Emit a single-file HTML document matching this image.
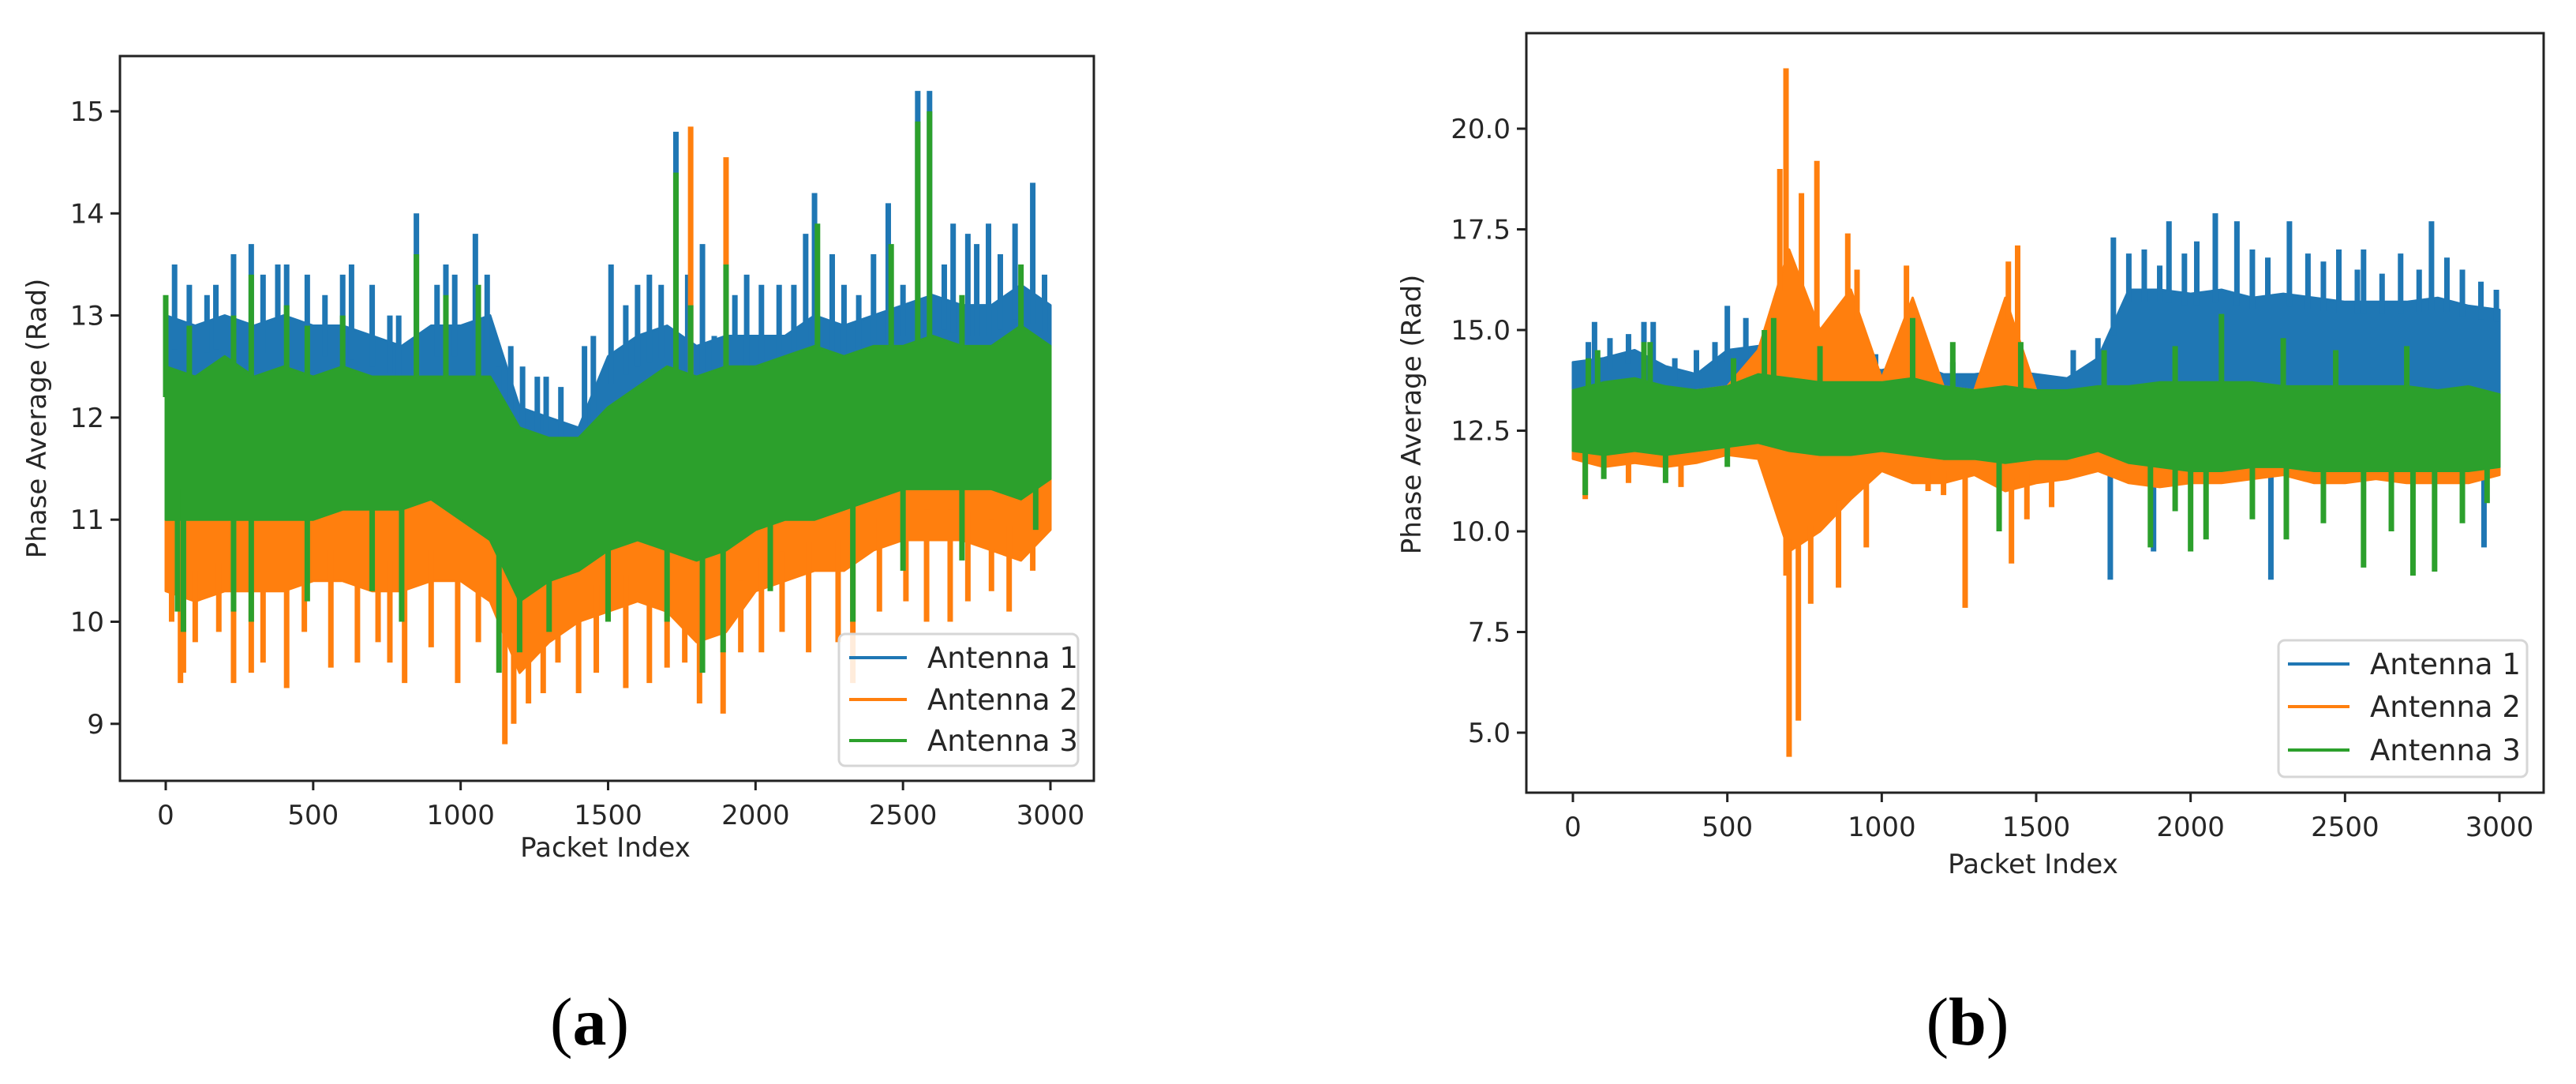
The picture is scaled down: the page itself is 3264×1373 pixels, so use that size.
<!DOCTYPE html>
<html><head><meta charset="utf-8">
<style>
html,body{margin:0;padding:0;background:#fff;}
svg{display:block;}
text{font-family:"DejaVu Sans","Liberation Sans",sans-serif;fill:#262626;}
</style></head>
<body>
<svg id="fig" width="3264" height="1373" viewBox="0 0 3264 1373" xmlns="http://www.w3.org/2000/svg"></svg>
<script>
// ---------- data (a) : band envelopes sampled every 100 packets ----------
const xSamples = [0,100,200,300,400,500,600,700,800,900,1000,1100,1200,1300,1400,1500,1600,1700,1800,1900,2000,2100,2200,2300,2400,2500,2600,2700,2800,2900,3000];
const aBlueHi  = [13.0,12.9,13.0,12.9,13.0,12.9,12.9,12.8,12.7,12.9,12.9,13.0,12.1,12.0,11.9,12.6,12.8,12.9,12.7,12.8,12.8,12.8,13.0,12.9,13.0,13.1,13.2,13.1,13.1,13.3,13.1];
const aBlueLo  = [11.1,11.1,11.1,11.1,11.1,11.1,11.2,11.2,11.2,11.3,11.1,10.9,10.3,10.5,10.6,10.8,10.9,10.8,10.7,10.8,11.0,11.1,11.1,11.2,11.3,11.4,11.4,11.4,11.4,11.3,11.5];
const aOrangeHi= [12.3,12.2,12.4,12.2,12.3,12.2,12.3,12.2,12.2,12.2,12.2,12.2,11.7,11.6,11.6,11.9,12.1,12.3,12.2,12.3,12.3,12.4,12.5,12.4,12.5,12.5,12.6,12.5,12.5,12.7,12.5];
const aOrangeLo= [10.3,10.2,10.3,10.3,10.3,10.4,10.4,10.3,10.3,10.4,10.4,10.2,9.5,9.8,10.0,10.1,10.2,10.1,9.8,9.9,10.3,10.4,10.5,10.5,10.7,10.8,10.8,10.8,10.7,10.6,10.9];
const aGreenHi = [12.5,12.4,12.6,12.4,12.5,12.4,12.5,12.4,12.4,12.4,12.4,12.4,11.9,11.8,11.8,12.1,12.3,12.5,12.4,12.5,12.5,12.6,12.7,12.6,12.7,12.7,12.8,12.7,12.7,12.9,12.7];
const aGreenLo = [11.0,11.0,11.0,11.0,11.0,11.0,11.1,11.1,11.1,11.2,11.0,10.8,10.2,10.4,10.5,10.7,10.8,10.7,10.6,10.7,10.9,11.0,11.0,11.1,11.2,11.3,11.3,11.3,11.3,11.2,11.4];
const aBlueSpikes   = [[30,13.5],[80,13.3],[140,13.2],[170,13.3],[230,13.6],[290,13.7],[330,13.4],[380,13.5],[410,13.5],[480,13.4],[540,13.2],[600,13.4],[630,13.5],[700,13.3],[760,13.0],[790,13.0],[850,14.0],[920,13.3],[950,13.5],[980,13.4],[1050,13.8],[1090,13.4],[1130,12.5],[1170,12.7],[1210,12.5],[1260,12.4],[1290,12.4],[1340,12.3],[1420,12.7],[1450,12.8],[1510,13.5],[1560,13.1],[1600,13.3],[1640,13.4],[1680,13.3],[1730,14.8],[1770,13.4],[1820,13.7],[1860,12.8],[1930,13.2],[1970,13.4],[2020,13.3],[2080,13.3],[2130,13.3],[2170,13.8],[2200,14.2],[2260,13.6],[2300,13.3],[2350,13.2],[2400,13.6],[2450,14.1],[2500,13.3],[2550,15.2],[2590,15.2],[2640,13.5],[2670,13.9],[2720,13.8],[2750,13.7],[2790,13.9],[2830,13.6],[2880,13.9],[2940,14.3],[2980,13.4]];
const aOrangeSpikes = [[1780,14.85],[1900,14.55],[20,10.0],[50,9.4],[60,9.5],[100,9.8],[180,9.9],[230,9.4],[290,9.5],[330,9.6],[410,9.35],[470,9.9],[560,9.55],[650,9.6],[720,9.8],[760,9.6],[810,9.4],[900,9.75],[990,9.4],[1060,9.8],[1150,8.8],[1180,9.0],[1230,9.2],[1280,9.3],[1330,9.6],[1400,9.3],[1460,9.5],[1560,9.35],[1640,9.4],[1700,9.55],[1760,9.6],[1810,9.2],[1890,9.1],[1950,9.7],[2020,9.7],[2090,9.9],[2180,9.7],[2280,9.8],[2330,9.4],[2420,10.1],[2510,10.2],[2580,10.0],[2660,10.0],[2720,10.2],[2800,10.3],[2860,10.1],[2940,10.5]];
const aGreenSpikes  = [[0,13.2],[80,12.9],[230,13.0],[290,13.4],[410,13.1],[480,12.9],[600,13.0],[850,13.6],[950,13.2],[1060,13.3],[1730,14.4],[1780,13.1],[1900,13.5],[2210,13.9],[2460,13.7],[2550,14.9],[2590,15.0],[2700,13.2],[2900,13.5],[40,10.1],[60,9.9],[230,10.1],[290,10.0],[480,10.2],[700,10.3],[800,10.0],[1130,9.5],[1200,9.7],[1300,9.9],[1500,10.0],[1700,10.0],[1820,9.5],[1890,9.7],[2050,10.3],[2330,10.0],[2500,10.5],[2700,10.6],[2950,10.9]];
const aYTicks = [9,10,11,12,13,14,15];
const aYTickLabels = ["9","10","11","12","13","14","15"];

// ---------- data (b) ----------
const bBlueHi  = [14.2,14.3,14.5,14.1,13.9,14.5,14.6,14.5,14.2,14.1,14.0,14.2,13.9,13.9,14.0,13.9,13.8,14.3,16.0,16.0,15.9,16.0,15.8,15.9,15.8,15.7,15.7,15.7,15.8,15.6,15.5];
const bBlueLo  = [12.0,11.9,12.0,11.9,12.0,12.1,12.2,12.0,11.9,11.9,12.0,11.9,11.8,11.8,11.7,11.8,11.8,12.0,11.8,11.6,11.5,11.5,11.6,11.6,11.5,11.5,11.5,11.5,11.5,11.5,11.6];
const bOrangeHi= [13.5,13.6,13.7,13.5,13.5,13.6,14.5,17.0,15.0,16.0,13.8,15.8,13.6,13.5,15.8,13.5,13.4,13.5,13.4,13.4,13.4,13.4,13.4,13.4,13.4,13.4,13.4,13.4,13.4,13.4,13.3];
const bOrangeLo= [11.8,11.6,11.7,11.6,11.7,11.9,11.8,9.5,10.0,10.8,11.5,11.2,11.2,11.4,11.0,11.2,11.3,11.5,11.2,11.1,11.2,11.2,11.3,11.4,11.2,11.2,11.3,11.2,11.2,11.2,11.4];
const bGreenHi = [13.5,13.7,13.8,13.6,13.5,13.6,13.9,13.8,13.7,13.7,13.7,13.8,13.6,13.5,13.6,13.5,13.5,13.6,13.6,13.7,13.7,13.7,13.7,13.6,13.6,13.6,13.6,13.6,13.5,13.6,13.4];
const bGreenLo = [12.0,11.9,12.0,11.9,12.0,12.1,12.2,12.0,11.9,11.9,12.0,11.9,11.8,11.8,11.7,11.8,11.8,12.0,11.7,11.6,11.5,11.5,11.6,11.6,11.5,11.5,11.5,11.5,11.5,11.5,11.6];
const bBlueSpikes   = [[20,13.9],[50,14.7],[70,15.2],[120,14.8],[180,14.9],[230,15.2],[260,15.2],[330,14.3],[400,14.5],[460,14.7],[500,15.6],[560,15.3],[620,14.8],[760,14.7],[980,14.4],[1230,14.2],[1380,14.3],[1620,14.5],[1700,14.8],[1750,17.3],[1800,16.9],[1850,17.0],[1900,16.6],[1930,17.7],[1980,16.9],[2020,17.2],[2080,17.9],[2150,17.7],[2200,17.0],[2250,16.8],[2320,17.7],[2380,16.9],[2430,16.7],[2480,17.0],[2540,16.5],[2560,17.0],[2620,16.4],[2680,16.9],[2740,16.5],[2780,17.7],[2830,16.8],[2880,16.5],[2940,16.2],[2990,16.0],[1740,8.8],[2260,8.8],[2950,9.6],[1880,9.5]];
const bOrangeSpikes = [[690,21.5],[670,19.0],[740,18.4],[790,19.2],[890,17.4],[920,16.5],[1080,16.6],[1440,17.1],[1410,16.7],[700,4.4],[730,5.3],[690,8.9],[770,8.2],[860,8.6],[1270,8.1],[1420,9.2],[1380,10.3],[40,10.8],[180,11.2],[350,11.1],[1150,11.0],[1200,10.9],[1470,10.3],[1550,10.6],[950,9.6]];
const bGreenSpikes  = [[50,14.3],[80,14.5],[230,14.7],[250,14.7],[520,14.3],[620,15.0],[650,15.3],[800,14.6],[1100,15.3],[1230,14.7],[1450,14.7],[1720,14.5],[1950,14.6],[2100,15.4],[2300,14.8],[2470,14.5],[2700,14.6],[40,10.9],[100,11.3],[300,11.2],[500,11.6],[1380,10.0],[1870,9.6],[1950,10.5],[2000,9.5],[2050,9.8],[2200,10.3],[2310,9.8],[2430,10.2],[2560,9.1],[2650,10.0],[2720,8.9],[2790,9.0],[2880,10.2],[2960,10.7]];
const bYTicks = [5,7.5,10,12.5,15,17.5,20];
const bYTickLabels = ["5.0","7.5","10.0","12.5","15.0","17.5","20.0"];

const xTicks = [0,500,1000,1500,2000,2500,3000];
const xTickLabels = ["0","500","1000","1500","2000","2500","3000"];
const seriesNames = ["Antenna 1","Antenna 2","Antenna 3"];
const COLORS = ["#1f77b4","#ff7f0e","#2ca02c"];

const NS="http://www.w3.org/2000/svg";
const svg=document.getElementById('fig');
function mk(tag,attrs,parent){const e=document.createElementNS(NS,tag);for(const k in attrs)e.setAttribute(k,attrs[k]);(parent||svg).appendChild(e);return e;}

function panel(cfg){
  const g=mk('g',{});
  
  
  const X=v=>cfg.x0+(v-0)*(cfg.x3000-cfg.x0)/3000;
  const Y=v=>cfg.yRefPx+(cfg.yRef-v)*cfg.pxPerUnit;
  const interp=(arr,x)=>{const i=Math.min(29,Math.floor(x/100));const t=(x-xSamples[i])/100;return arr[i]*(1-t)+arr[i+1]*t;};
  const clip='clip-'+cfg.name;
  const defs=mk('defs',{},g);
  const cp=mk('clipPath',{id:clip},defs);
  mk('rect',{x:cfg.L,y:cfg.T,width:cfg.R-cfg.L,height:cfg.B-cfg.T},cp);
  const plot=mk('g',{'clip-path':'url(#'+clip+')'},g);
  cfg.series.forEach((s,si)=>{
    const sg=mk('g',{},plot);
    
    
    let pts=xSamples.map((x,i)=>X(x)+','+Y(s.hi[i]));
    for(let i=xSamples.length-1;i>=0;i--)pts.push(X(xSamples[i])+','+Y(s.lo[i]));
    const band=mk('polygon',{points:pts.join(' '),fill:COLORS[si],stroke:COLORS[si],'stroke-width':3,'stroke-linejoin':'round'},sg);
    
    
    s.spikes.forEach(([x,v])=>{
      const up=v>interp(s.hi,x);
      const base=up?interp(s.hi,x)-0.3:interp(s.lo,x)+0.3;
      const ln=mk('line',{x1:X(x),x2:X(x),y1:Y(base),y2:Y(v),stroke:COLORS[si],'stroke-width':7},sg);
      
      
    });
  });
  const fr=mk('rect',{x:cfg.L,y:cfg.T,width:cfg.R-cfg.L,height:cfg.B-cfg.T,fill:'none',stroke:'#222','stroke-width':3},g);
  
  
  xTicks.forEach((t,i)=>{
    mk('line',{x1:X(t),x2:X(t),y1:cfg.B,y2:cfg.B+12,stroke:'#222','stroke-width':3},g);
    const tx=mk('text',{x:X(t),y:cfg.B+55,'font-size':34,'text-anchor':'middle'},g);
    tx.textContent=xTickLabels[i];
    
    
  });
  cfg.yTicks.forEach((t,i)=>{
    mk('line',{x1:cfg.L-12,x2:cfg.L,y1:Y(t),y2:Y(t),stroke:'#222','stroke-width':3},g);
    const tx=mk('text',{x:cfg.L-20,y:Y(t)+12,'font-size':34,'text-anchor':'end'},g);
    tx.textContent=cfg.yLabels[i];
    
    
  });
  const xl=mk('text',{x:cfg.xlX,y:cfg.xlY,'font-size':34,'text-anchor':'middle'},g);
  xl.textContent='Packet Index';
  
  
  const yl=mk('text',{x:0,y:0,'font-size':34,'text-anchor':'middle',transform:`translate(${cfg.ylX},${cfg.ylY}) rotate(-90)`},g);
  yl.textContent='Phase Average (Rad)';
  
  
  const lg=mk('g',{},g);
  
  
  mk('rect',{x:cfg.lg[0],y:cfg.lg[1],width:cfg.lg[2]-cfg.lg[0],height:cfg.lg[3]-cfg.lg[1],rx:8,fill:'#fff','fill-opacity':0.85,stroke:'#d6d6d6','stroke-width':3},lg);
  seriesNames.forEach((n,i)=>{
    const yy=cfg.lgRows[i];
    const e=mk('g',{},lg);
    
    
    mk('line',{x1:cfg.lgLine[0],x2:cfg.lgLine[1],y1:yy,y2:yy,stroke:COLORS[i],'stroke-width':4},e);
    const t=mk('text',{x:cfg.lgText,y:yy+13,'font-size':37},e);
    t.textContent=n;
  });
  const cap=mk('text',{x:cfg.capX,y:1323,'font-size':86,'text-anchor':'middle',style:'font-family:"Liberation Serif",serif;fill:#000'},g);
  
  
  const p1=mk('tspan',{},cap);p1.textContent='(';
  const p2=mk('tspan',{'font-weight':'bold'},cap);p2.textContent=cfg.cap;
  const p3=mk('tspan',{},cap);p3.textContent=')';
}

panel({name:'chart-a',L:152,R:1386,T:71,B:989,x0:210,x3000:1331,yRef:15,yRefPx:141,pxPerUnit:129.3,
  yTicks:aYTicks,yLabels:aYTickLabels,xlX:767,xlY:1085,ylX:58,ylY:530,
  lg:[1063,803,1366,970],lgRows:[833,886,938],lgLine:[1076,1149],lgText:1175,capX:747,cap:'a',
  series:[{hi:aBlueHi,lo:aBlueLo,spikes:aBlueSpikes},{hi:aOrangeHi,lo:aOrangeLo,spikes:aOrangeSpikes},{hi:aGreenHi,lo:aGreenLo,spikes:aGreenSpikes}]});
panel({name:'chart-b',L:1934,R:3223,T:42,B:1004,x0:1993,x3000:3167,yRef:20,yRefPx:163,pxPerUnit:51,
  yTicks:bYTicks,yLabels:bYTickLabels,xlX:2576,xlY:1106,ylX:1800,ylY:525,
  lg:[2887,811,3202,984],lgRows:[841,895,950],lgLine:[2899,2977],lgText:3003,capX:2493,cap:'b',
  series:[{hi:bBlueHi,lo:bBlueLo,spikes:bBlueSpikes},{hi:bOrangeHi,lo:bOrangeLo,spikes:bOrangeSpikes},{hi:bGreenHi,lo:bGreenLo,spikes:bGreenSpikes}]});
</script>
</body></html>
